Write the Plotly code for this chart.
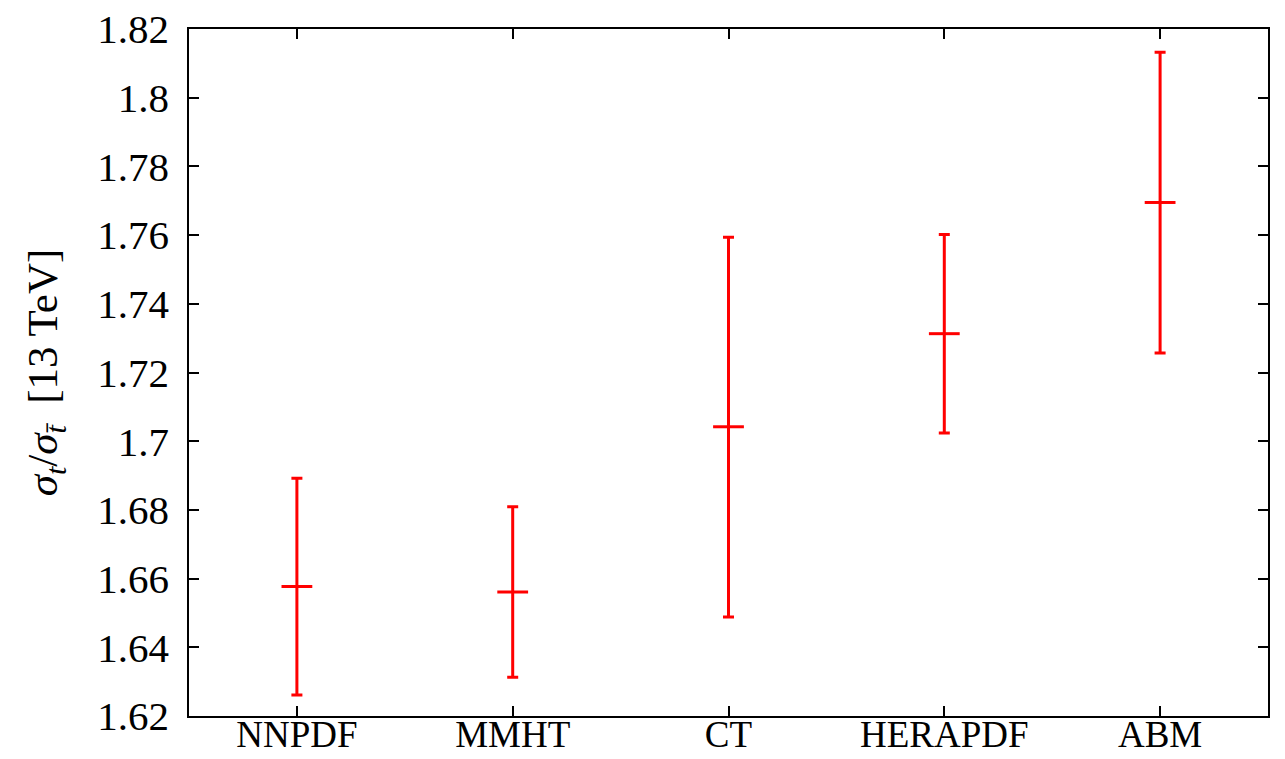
import plotly.graph_objects as go

categories = ["NNPDF", "MMHT", "CT", "HERAPDF", "ABM"]
central = [1.6577, 1.6561, 1.7042, 1.7313, 1.7695]
upper = [1.6892, 1.6809, 1.7594, 1.7602, 1.8132]
lower = [1.6261, 1.6313, 1.6488, 1.7024, 1.7257]
ytick_vals = [1.62, 1.64, 1.66, 1.68, 1.70, 1.72, 1.74, 1.76, 1.78, 1.80, 1.82]
ytick_text = ["1.62", "1.64", "1.66", "1.68", "1.7", "1.72", "1.74", "1.76", "1.78", "1.8", "1.82"]

xpos = list(range(1, len(categories) + 1))
err_plus = [u - c for u, c in zip(upper, central)]
err_minus = [c - l for c, l in zip(central, lower)]

font_family = "Liberation Serif, Times New Roman, serif"

fig = go.Figure()
fig.add_trace(go.Scatter(
    x=xpos, y=central, mode="markers",
    marker=dict(symbol="line-ew", size=22, color="#ff0000",
                line=dict(color="#ff0000", width=3)),
    error_y=dict(type="data", symmetric=False, array=err_plus, arrayminus=err_minus,
                 color="#ff0000", thickness=3, width=5.5),
    showlegend=False,
))

fig.update_layout(
    width=1285, height=759,
    margin=dict(l=189, r=17, t=29, b=43),
    paper_bgcolor="white", plot_bgcolor="white",
    font=dict(family=font_family, size=40, color="black"),
    xaxis=dict(
        range=[0.5, 5.5], tickvals=xpos, ticktext=categories,
        ticks="inside", ticklen=10, tickwidth=1.5, tickcolor="black",
        showline=True, linecolor="black", linewidth=1.5, mirror="ticks",
        showgrid=False, zeroline=False, ticklabelstandoff=-15,
        tickfont=dict(size=37), automargin=False,
    ),
    yaxis=dict(
        range=[1.62, 1.82], tickvals=ytick_vals, ticktext=ytick_text,
        ticks="inside", ticklen=10, tickwidth=1.5, tickcolor="black",
        showline=True, linecolor="black", linewidth=1.5, mirror="ticks",
        showgrid=False, zeroline=False, ticklabelstandoff=10,
        tickfont=dict(size=41), automargin=False,
        title=dict(text="<i>σ<sub>t</sub></i>/<i>σ<sub>t̄</sub></i>  [13 TeV]",
                   font=dict(size=43), standoff=26),
    ),
)

fig.write_html("out.html")
